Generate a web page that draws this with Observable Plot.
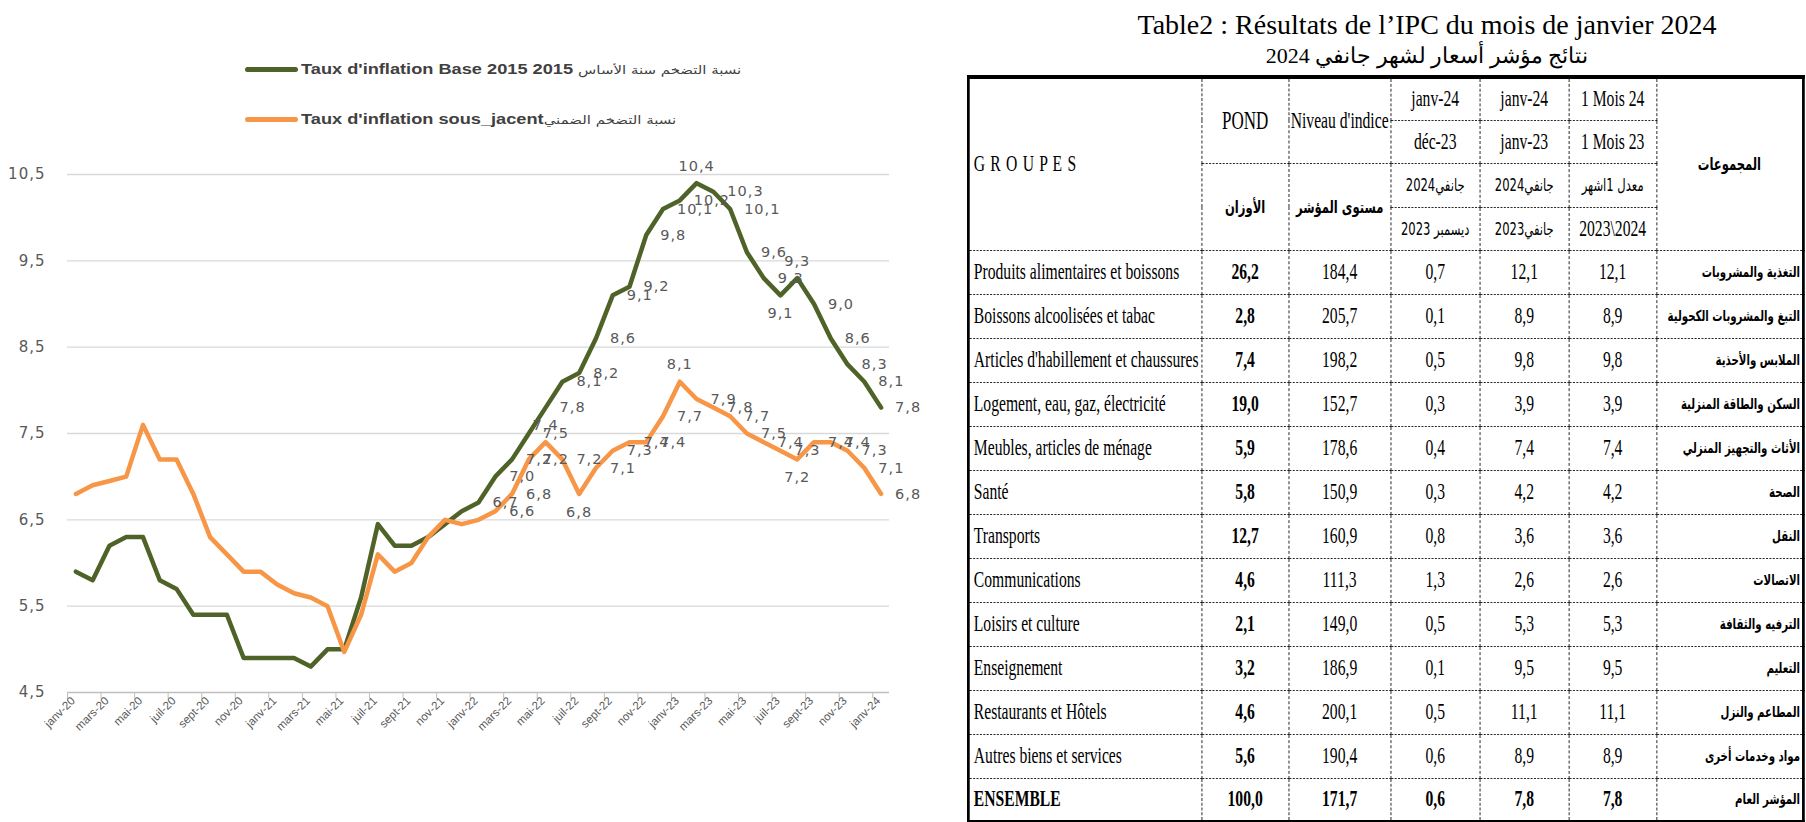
<!DOCTYPE html>
<html><head><meta charset="utf-8">
<script src="https://cdn.jsdelivr.net/npm/d3@7"></script>
<script src="https://cdn.jsdelivr.net/npm/@observablehq/plot@0.6"></script>
<style>
html,body{margin:0;padding:0;background:#fff;}
body{width:1806px;height:822px;position:relative;overflow:hidden;}
#chart{position:absolute;left:0;top:0;}
.legend{position:absolute;left:245px;display:flex;align-items:center;white-space:nowrap;height:18px;}
.legend .sw{width:53px;height:5px;border-radius:3px;margin-right:3px;flex:none;}
.legend .txt{display:inline-block;transform:scaleX(1.3);transform-origin:0 50%;font:bold 14px "Liberation Sans",Arial,sans-serif;color:#404040;}
.legend .ar{font-weight:normal;font-family:"DejaVu Sans",sans-serif;font-size:11.5px;}
#title{position:absolute;left:1027px;width:800px;top:8px;text-align:center;font-family:"Liberation Serif","Times New Roman",serif;color:#000;}
#title .l1{font-size:28px;line-height:34px;}
#title .l2{font-size:22px;line-height:28px;direction:rtl;}
#tablewrap{position:absolute;left:967px;top:75px;width:1228px;transform:scaleX(0.68);transform-origin:0 0;}
table{width:1228px;border-collapse:collapse;font-family:"Liberation Serif","Times New Roman",serif;font-size:23px;color:#000;table-layout:fixed;border:4px solid #000;}
td{padding:0;text-align:center;vertical-align:middle;border:1.5px dashed #000;overflow:hidden;white-space:nowrap;}
td.fr{text-align:left;padding-left:6px;}
td.ar{direction:rtl;text-align:right;padding-right:3px;font-family:"DejaVu Sans",sans-serif;font-weight:bold;font-size:15px;}
td.arh{direction:rtl;font-family:"DejaVu Sans",sans-serif;font-size:17px;}
td.b{font-weight:bold;}
tr.tot td{font-weight:bold;}
</style></head>
<body>
<div id="chart"></div>
<div class="legend" style="top:60px"><span class="sw" style="background:#4f6228"></span><span class="txt">Taux d'inflation Base 2015 2015 <span class="ar">نسبة التضخم سنة الأساس</span></span></div>
<div class="legend" style="top:110px"><span class="sw" style="background:#f79646"></span><span class="txt">Taux d'inflation sous_jacent<span class="ar">نسبة التضخم الضمني</span></span></div>
<div id="title"><div class="l1">Table2 : Résultats de l’IPC du mois de janvier 2024</div><div class="l2">نتائج مؤشر أسعار لشهر جانفي 2024</div></div>
<div id="tablewrap"></div>
<script>
// ---------- chart data ----------
const tickLabels = ["janv-20","mars-20","mai-20","juil-20","sept-20","nov-20","janv-21","mars-21","mai-21","juil-21","sept-21","nov-21","janv-22","mars-22","mai-22","juil-22","sept-22","nov-22","janv-23","mars-23","mai-23","juil-23","sept-23","nov-23","janv-24"];
const inflationBase = [5.9,5.8,6.2,6.3,6.3,5.8,5.7,5.4,5.4,5.4,4.9,4.9,4.9,4.9,4.8,5.0,5.0,5.6,6.45,6.2,6.2,6.3,6.45,6.6,6.7,7.0,7.2,7.5,7.8,8.1,8.2,8.6,9.1,9.2,9.8,10.1,10.2,10.4,10.3,10.1,9.6,9.3,9.1,9.3,9.0,8.6,8.3,8.1,7.8];
const inflationCore = [6.8,6.9,6.95,7.0,7.6,7.2,7.2,6.8,6.3,6.1,5.9,5.9,5.75,5.65,5.6,5.5,4.97,5.4,6.1,5.9,6.0,6.3,6.5,6.45,6.5,6.6,6.8,7.2,7.4,7.2,6.8,7.1,7.3,7.4,7.4,7.7,8.1,7.9,7.8,7.7,7.5,7.4,7.3,7.2,7.4,7.4,7.3,7.1,6.8];
const yTicks = [4.5,5.5,6.5,7.5,8.5,9.5,10.5];
const baseLabelFrom = 24, coreLabelFrom = 25;

// ---------- table data ----------
const groupsFr = ["Produits alimentaires et boissons","Boissons alcoolisées et tabac","Articles d'habillement et chaussures","Logement, eau, gaz, électricité","Meubles, articles de ménage","Santé","Transports","Communications","Loisirs et culture","Enseignement","Restaurants et Hôtels","Autres biens et services","ENSEMBLE"];
const groupsAr = ["التغذية والمشروبات","التبغ والمشروبات الكحولية","الملابس والأحذية","السكن والطاقة المنزلية","الأثاث والتجهيز المنزلي","الصحة","النقل","الاتصالات","الترفيه والثقافة","التعليم","المطاعم والنزل","مواد وخدمات أخرى","المؤشر العام"];
const pond = ["26,2","2,8","7,4","19,0","5,9","5,8","12,7","4,6","2,1","3,2","4,6","5,6","100,0"];
const niveau = ["184,4","205,7","198,2","152,7","178,6","150,9","160,9","111,3","149,0","186,9","200,1","190,4","171,7"];
const varMensuelle = ["0,7","0,1","0,5","0,3","0,4","0,3","0,8","1,3","0,5","0,1","0,5","0,6","0,6"];
const varAnnuelle = ["12,1","8,9","9,8","3,9","7,4","4,2","3,6","2,6","5,3","9,5","11,1","8,9","7,8"];
const moyenne = ["12,1","8,9","9,8","3,9","7,4","4,2","3,6","2,6","5,3","9,5","11,1","8,9","7,8"];

const rows = inflationBase.map((v, i) => ({i, base: v, core: inflationCore[i]}));
const fmt = v => d3.format(".1f")(v).replace(".", ",");
const boundaries = tickLabels.map((_, k) => 2 * k - 0.5);
const lblFont = "DejaVu Sans, Verdana, sans-serif";

// label placement: peaks above, troughs below, others to the right
function place(arr, i) {
  const v = arr[i], p = arr[i - 1], n = arr[i + 1];
  if (n === undefined || p === undefined) return "right";
  if (v > p && v > n) return "top";
  if (v < p && v < n) return "bottom";
  return "right";
}
function labelMarks(key, arr, from) {
  const pts = rows.filter(d => d.i >= from);
  const common = {x: "i", y: key, text: d => fmt(d[key]), fill: "#595959", fontSize: 14.5, fontFamily: lblFont};
  return [
    Plot.text(pts.filter(d => place(arr, d.i) === "right"), {...common, dx: 14, textAnchor: "start"}),
    Plot.text(pts.filter(d => place(arr, d.i) === "top"), {...common, dy: -17, textAnchor: "middle"}),
    Plot.text(pts.filter(d => place(arr, d.i) === "bottom"), {...common, dy: 18, textAnchor: "middle"})
  ];
}

const chart = Plot.plot({
  width: 920, height: 760,
  marginLeft: 67, marginRight: 31, marginTop: 174, marginBottom: 68,
  x: {domain: [-0.5, 48.5], label: null},
  y: {domain: [4.5, 10.5], axis: null},
  style: {background: "transparent", overflow: "visible"},
  marks: [
    Plot.ruleY(yTicks.slice(1), {stroke: "#d9d9d9", strokeWidth: 1.3}),
    Plot.ruleY(yTicks.slice(0, 1), {stroke: "#bfbfbf", strokeWidth: 1.3}),
    Plot.axisX({ticks: boundaries, tickSize: 6, tickFormat: () => "", label: null, stroke: "#bfbfbf"}),
    Plot.text(tickLabels, {x: (d, k) => 2 * k, frameAnchor: "bottom", dy: 9, rotate: -45, textAnchor: "end", fill: "#595959", fontSize: 11.5, fontFamily: "Liberation Sans, Arial, sans-serif"}),
    Plot.text(yTicks, {y: d => d, frameAnchor: "left", dx: -22, textAnchor: "end", text: fmt, fill: "#595959", fontSize: 15, fontFamily: lblFont}),
    Plot.line(rows, {x: "i", y: "base", stroke: "#4f6228", strokeWidth: 4.5, strokeLinejoin: "round"}),
    Plot.line(rows, {x: "i", y: "core", stroke: "#f79646", strokeWidth: 4.5, strokeLinejoin: "round"}),
    ...labelMarks("base", inflationBase, baseLabelFrom),
    ...labelMarks("core", inflationCore, coreLabelFrom)
  ]
});
// slightly wider lettering like the source chart
chart.querySelectorAll('g[aria-label="text"]').forEach((g, k) => { if (k > 0) g.style.letterSpacing = "1px"; });
document.getElementById("chart").append(chart);

// ---------- table ----------
const colW = [343, 128, 150, 131, 131, 129, 216];
const hdrH = [43, 43, 44, 43];
const rowH = 44;
let h = '<table><colgroup>' + colW.map(w => `<col style="width:${w}px">`).join('') + '</colgroup>';
h += `<tr style="height:${hdrH[0]}px"><td rowspan="4" class="fr" style="letter-spacing:1px">G R O U P E S</td><td rowspan="2" style="font-size:25px">POND</td><td rowspan="2">Niveau d'indice</td><td>janv-24</td><td>janv-24</td><td>1 Mois 24</td><td rowspan="4" class="arh" style="font-weight:bold">المجموعات</td></tr>`;
h += `<tr style="height:${hdrH[1]}px"><td>déc-23</td><td>janv-23</td><td>1 Mois 23</td></tr>`;
h += `<tr style="height:${hdrH[2]}px"><td rowspan="2" class="arh" style="font-weight:bold">الأوزان</td><td rowspan="2" class="arh" style="font-weight:bold">مستوى المؤشر</td><td class="arh">جانفي2024</td><td class="arh">جانفي2024</td><td class="arh">معدل 1اشهر</td></tr>`;
h += `<tr style="height:${hdrH[3]}px"><td class="arh">ديسمبر 2023</td><td class="arh">جانفي2023</td><td>2023\\2024</td></tr>`;
groupsFr.forEach((g, k) => {
  const tot = k === groupsFr.length - 1;
  h += `<tr style="height:${rowH}px"${tot ? ' class="tot"' : ''}><td class="fr">${g}</td><td class="b">${pond[k]}</td><td>${niveau[k]}</td><td>${varMensuelle[k]}</td><td>${varAnnuelle[k]}</td><td>${moyenne[k]}</td><td class="ar">${groupsAr[k]}</td></tr>`;
});
h += '</table>';
document.getElementById("tablewrap").innerHTML = h;
</script>
</body></html>
